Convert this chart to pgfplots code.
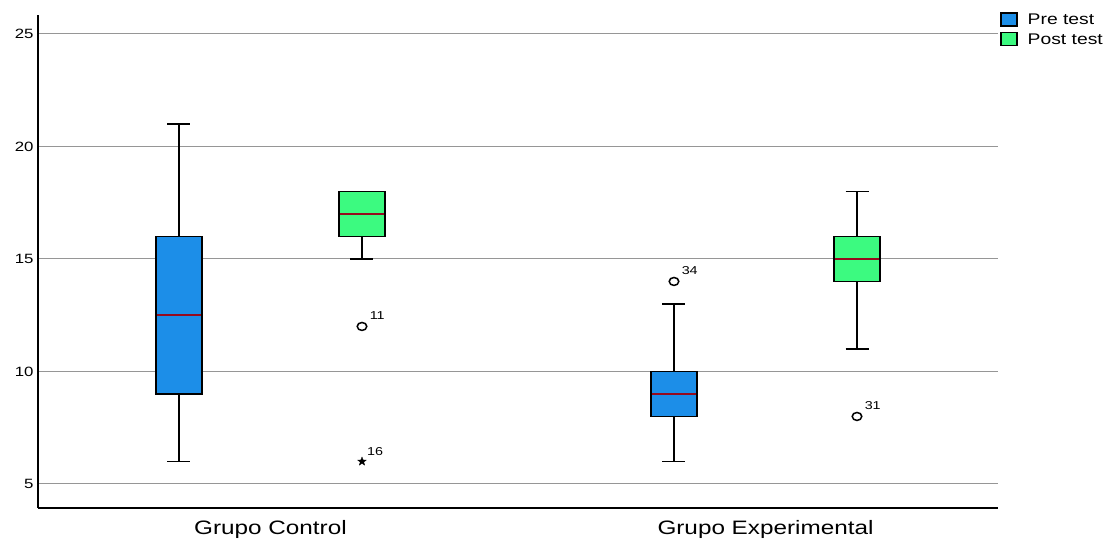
\documentclass[border=0pt]{standalone}
\usepackage{fontspec}
\setmainfont[FakeStretch=1.25]{Liberation Sans}
\usepackage{pgfplots}
\pgfplotsset{compat=1.18}
\definecolor{preblue}{RGB}{28,142,232}
\definecolor{postgreen}{RGB}{60,250,128}
\definecolor{medred}{RGB}{150,10,30}
\definecolor{gridgray}{RGB}{150,150,150}
\pgfdeclareplotmark{fstar}{%
  \pgfpathmoveto{\pgfpointpolar{90}{\pgfplotmarksize}}%
  \pgfpathlineto{\pgfpointpolar{126}{0.42\pgfplotmarksize}}%
  \pgfpathlineto{\pgfpointpolar{162}{\pgfplotmarksize}}%
  \pgfpathlineto{\pgfpointpolar{198}{0.42\pgfplotmarksize}}%
  \pgfpathlineto{\pgfpointpolar{234}{\pgfplotmarksize}}%
  \pgfpathlineto{\pgfpointpolar{270}{0.42\pgfplotmarksize}}%
  \pgfpathlineto{\pgfpointpolar{306}{\pgfplotmarksize}}%
  \pgfpathlineto{\pgfpointpolar{342}{0.42\pgfplotmarksize}}%
  \pgfpathlineto{\pgfpointpolar{18}{\pgfplotmarksize}}%
  \pgfpathlineto{\pgfpointpolar{54}{0.42\pgfplotmarksize}}%
  \pgfpathclose
  \pgfusepathqfillstroke}
\begin{document}
\begin{tikzpicture}
\path[use as bounding box] (-38bp,-31bp) rectangle (1072bp,508bp);
\begin{axis}[
  at={(0bp,0bp)}, anchor=south west,
  scale only axis, width=960bp, height=493bp,
  xmin=38, xmax=998, ymin=3.933, ymax=25.84,
  axis lines*=left,
  axis line style={black, line width=1.5bp},
  ytick={5,10,15,20,25},
  ymajorgrids, grid style={gridgray, line width=1bp},
  xtick={270.5,765.5}, xticklabels={Grupo Control, Grupo Experimental},
  major tick length=0pt,
  /pgf/number format/assume math mode=true,
  yticklabel style={font=\fontsize{13.5}{13.5}\selectfont, xshift=-1bp},
  xticklabel style={font=\fontsize{19.5}{19.5}\selectfont, yshift=-9bp},
  legend style={at={(1.0021,1.006)}, anchor=north west, draw=none, fill=none,
    font=\fontsize{15.5}{15.5}\selectfont, inner sep=0pt, row sep=5bp,
    nodes={inner sep=0pt, text depth=0pt},
    cells={anchor=west}},
  legend image code/.code={\draw[#1] (0bp,-6.5bp) rectangle (16bp,6.5bp);},
  wh/.style={black, line width=1.6bp, forget plot},
  bx/.style={draw=black, line width=1.6bp, forget plot},
  md/.style={medred, line width=2bp, forget plot},
]
\addlegendimage{fill=preblue, draw=black, line width=1.5bp}
\addlegendentry{\hspace{10bp}Pre test}
\addlegendimage{fill=postgreen, draw=black, line width=1.5bp}
\addlegendentry{\hspace{10bp}Post test}

% Grupo Control - Pre test
\addplot[wh] coordinates {(179,6) (179,21)};
\addplot[wh] coordinates {(167.5,21) (190.5,21)};
\addplot[wh] coordinates {(167.5,6) (190.5,6)};
\addplot[bx, fill=preblue] coordinates {(156,9) (202,9) (202,16) (156,16)} -- cycle;
\addplot[md] coordinates {(157,12.5) (201,12.5)};
% Grupo Control - Post test
\addplot[wh] coordinates {(362,15) (362,18)};
\addplot[wh] coordinates {(350.5,15) (373.5,15)};
\addplot[bx, fill=postgreen] coordinates {(339,16) (385,16) (385,18) (339,18)} -- cycle;
\addplot[md] coordinates {(340,17) (384,17)};
% Grupo Experimental - Pre test
\addplot[wh] coordinates {(674,6) (674,13)};
\addplot[wh] coordinates {(662.5,13) (685.5,13)};
\addplot[wh] coordinates {(662.5,6) (685.5,6)};
\addplot[bx, fill=preblue] coordinates {(651,8) (697,8) (697,10) (651,10)} -- cycle;
\addplot[md] coordinates {(652,9) (696,9)};
% Grupo Experimental - Post test
\addplot[wh] coordinates {(857,11) (857,18)};
\addplot[wh] coordinates {(845.5,18) (868.5,18)};
\addplot[wh] coordinates {(845.5,11) (868.5,11)};
\addplot[bx, fill=postgreen] coordinates {(834,14) (880,14) (880,16) (834,16)} -- cycle;
\addplot[md] coordinates {(835,15) (879,15)};

\addplot[only marks, mark=o, mark size=4, mark options={xscale=1.2, line width=1.5bp, draw=black},
  nodes near coords, point meta=explicit symbolic,
  nodes near coords style={anchor=south west, inner sep=0pt, xshift=7bp, yshift=6bp, font=\fontsize{11.5}{11.5}\selectfont, text=black},
  forget plot] coordinates {(362,12)[11] (674,14)[34] (857,8)[31]};
\addplot[only marks, mark=fstar, mark size=4.5, mark options={fill=black, draw=black, line width=0.3bp},
  nodes near coords, point meta=explicit symbolic,
  nodes near coords style={anchor=south west, inner sep=0pt, xshift=5bp, yshift=6bp, font=\fontsize{11.5}{11.5}\selectfont, text=black},
  forget plot] coordinates {(362,6)[16]};
\end{axis}
\end{tikzpicture}
\end{document}
